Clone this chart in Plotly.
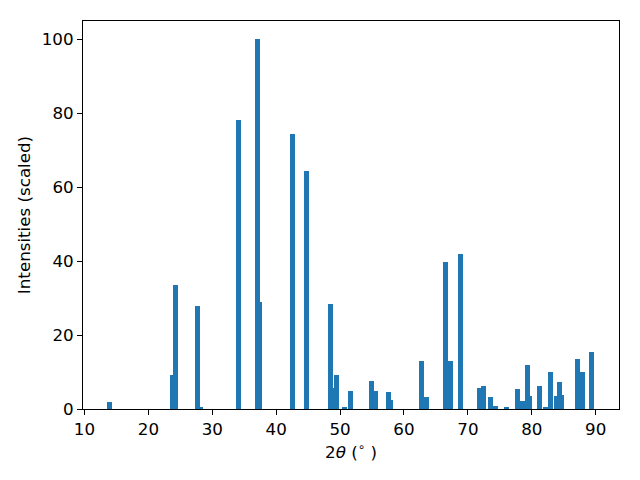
import plotly.graph_objects as go

two_theta = [13.9, 23.77, 24.24, 27.7, 28.1, 34.1, 37.07, 37.4, 42.55, 44.74,
             48.5, 48.95, 49.4, 50.7, 51.6, 54.9, 55.5, 57.6, 57.9,
             62.74, 63.5, 66.5, 67.3, 68.84, 71.8, 72.4, 73.5, 74.3, 76.0,
             77.8, 78.5, 79.3, 79.6, 81.2, 82.2, 82.9, 83.8, 84.3, 84.6,
             87.15, 87.9, 89.34]
intensity = [2.0, 9.1, 33.5, 27.8, 0.4, 78.3, 100.0, 28.9, 74.4, 64.5,
             28.4, 5.8, 9.1, 0.5, 5.0, 7.7, 5.0, 4.7, 2.5,
             12.9, 3.3, 39.8, 12.9, 42.0, 5.8, 6.3, 3.3, 0.9, 0.4,
             5.5, 2.3, 11.8, 3.6, 6.3, 0.6, 9.9, 3.4, 7.2, 3.9,
             13.4, 10.1, 15.3]
x_ticks = [10, 20, 30, 40, 50, 60, 70, 80, 90]
y_ticks = [0, 20, 40, 60, 80, 100]

# draw shorter bars first so taller ones sit on top
order = sorted(range(len(two_theta)), key=lambda i: intensity[i])
xs = [two_theta[i] for i in order]
ys = [intensity[i] for i in order]

fig = go.Figure(go.Bar(x=xs, y=ys, width=0.78, marker=dict(color="#1f77b4", line=dict(width=0))))

font = dict(family="DejaVu Sans", size=16.7, color="black")
axis_common = dict(showline=True, linecolor="black", linewidth=1.1, mirror=True,
                   ticks="outside", ticklen=5, tickwidth=1.1, tickcolor="black",
                   showgrid=False, zeroline=False, tickfont=font)
fig.update_layout(
    width=640, height=480,
    margin=dict(l=83, r=21, t=21, b=71),
    paper_bgcolor="white", plot_bgcolor="white",
    bargap=0, barmode="overlay", showlegend=False,
    font=font,
    xaxis=dict(range=[9.77, 93.65], tickvals=x_ticks,
               title=dict(text="2<i>θ</i> (<sup>∘</sup> )", font=font, standoff=8), **axis_common),
    yaxis=dict(range=[0, 105], tickvals=y_ticks,
               title=dict(text="Intensities (scaled)", font=font, standoff=6), **axis_common),
)
fig.write_html("out.html", config={"displayModeBar": False},
               post_script="document.body.style.margin='0';document.body.style.padding='0';")
